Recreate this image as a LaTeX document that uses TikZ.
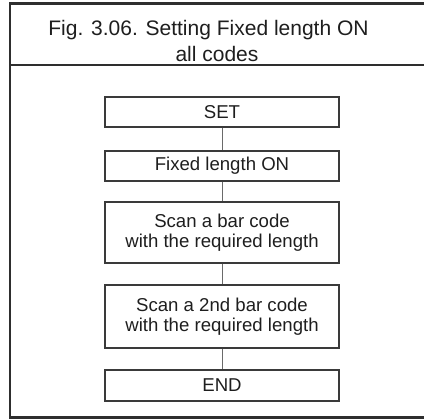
\documentclass[tikz,border=0pt]{standalone}
\usepackage{fontspec}
\setmainfont{Liberation Sans}
\definecolor{framec}{HTML}{2E2E2E}
\definecolor{boxc}{HTML}{3A3A3A}
\definecolor{linkc}{HTML}{6A6A6A}
\definecolor{txtc}{HTML}{1E1E1E}
\tikzset{
  stepbox/.style={draw=boxc, line width=1.3pt, rectangle, minimum width=234pt,
    inner sep=0pt, align=center, text=txtc, font=\fontsize{18.6}{20.5}\selectfont},
  link/.style={draw=linkc, line width=1pt},
  frameline/.style={draw=framec, line width=2.6pt},
  headtxt/.style={anchor=base, inner sep=0pt, text=txtc, font=\fontsize{21}{24}\selectfont}
}
\begin{document}
\begin{tikzpicture}[x=1pt,y=-1pt]
\useasboundingbox (0,0) rectangle (424,419);
\draw[frameline] (426,3.5) -- (10,3.5) -- (10,417.5) -- (426,417.5);
\draw[frameline] (10,65) -- (426,65);
\node[headtxt] (h1) at (208.5,36) {Fig. 3.06. Setting Fixed length ON};
\node[headtxt] (h2) at (217,62) {all codes};
\node[stepbox, minimum height=30pt] (set) at (222,112) {SET};
\node[stepbox, minimum height=30pt] (fixed) at (222,166) {Fixed length ON};
\node[stepbox, minimum height=61pt] (scan1) at (222,232.5) {Scan a bar code\\with the required length};
\node[stepbox, minimum height=63pt] (scan2) at (222,316.5) {Scan a 2nd bar code\\with the required length};
\node[stepbox, minimum height=31pt] (end) at (222,385.5) {END};
\draw[link] (set) -- (fixed);
\draw[link] (fixed) -- (scan1);
\draw[link] (scan1) -- (scan2);
\draw[link] (scan2) -- (end);
\end{tikzpicture}
\end{document}
